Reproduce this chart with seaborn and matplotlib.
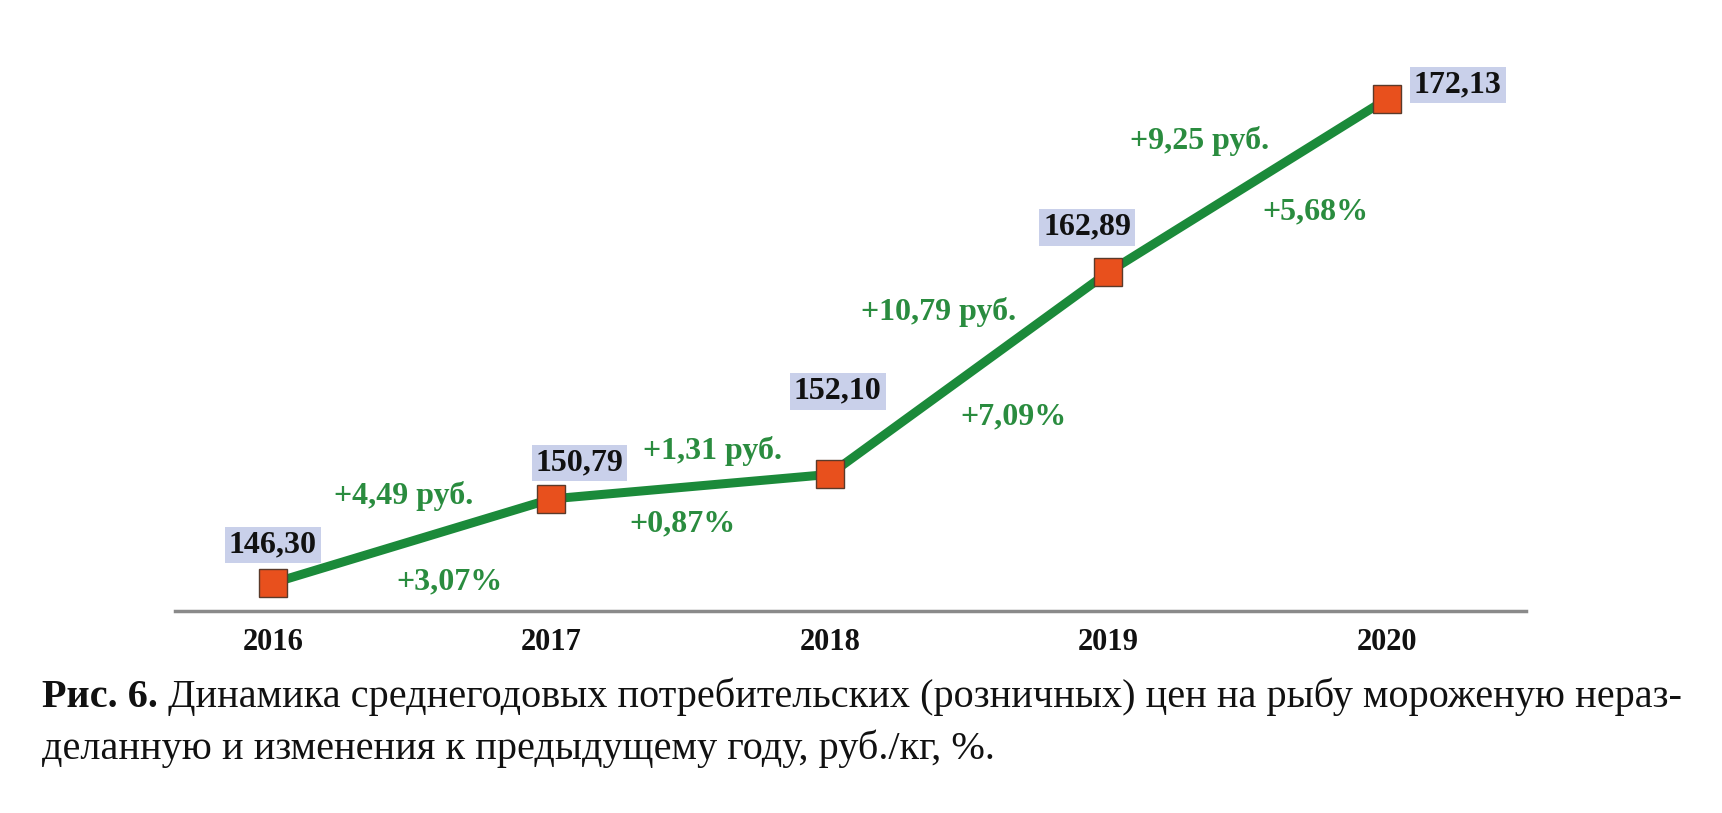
import matplotlib
matplotlib.use("Agg")
import matplotlib.pyplot as plt
import seaborn as sns
import pandas as pd

# data
years = ["2016", "2017", "2018", "2019", "2020"]
prices = [146.30, 150.79, 152.10, 162.89, 172.13]
price_labels = ["146,30", "150,79", "152,10", "162,89", "172,13"]
rub_change = ["+4,49 руб.", "+1,31 руб.", "+10,79 руб.", "+9,25 руб."]
pct_change = ["+3,07%", "+0,87%", "+7,09%", "+5,68%"]

caption_bold = "Рис. 6."
caption_rest = (" Динамика среднегодовых потребительских (розничных) цен на рыбу мороженую нераз-")
caption_line2 = "деланную и изменения к предыдущему году, руб./кг, %."

GREEN_LINE = "#1b8a3a"
GREEN_TEXT = "#2a8c3f"
MARKER = "#e8501d"
BOX = "#c9d0ea"

sns.set_theme(style="white")
plt.rcParams["font.family"] = ["Liberation Serif", "DejaVu Serif"]

df = pd.DataFrame({"pos": range(len(years)), "price": prices})

fig = plt.figure(figsize=(17.22, 8.13), dpi=100)
ax = fig.add_axes([0.1016, 0.2485, 0.886 - 0.1016, 0.963 - 0.2485])

sns.lineplot(data=df, x="pos", y="price", ax=ax, color=GREEN_LINE, linewidth=6.5,
             marker="s", markersize=20, markerfacecolor=MARKER,
             markeredgecolor="#5a3a2a", markeredgewidth=1.0, zorder=3)

ax.set_xlim(-0.352, 4.499)
ax.set_ylim(144.81, 175.81)
ax.set_xticks(range(len(years)))
ax.set_xticklabels(years, fontsize=22, fontweight="bold", color="#111111")
ax.tick_params(axis="x", length=0, pad=12)
ax.set_yticks([])
ax.set_xlabel("")
ax.set_ylabel("")
for side in ["top", "left", "right"]:
    ax.spines[side].set_visible(False)
ax.spines["bottom"].set_color("#8a8a8a")
ax.spines["bottom"].set_linewidth(2.5)

# value labels (pixel offsets from markers)
val_off = [(0, 38), (28, 36), (8, 83), (-21, 45), (71, 14)]
for i, (lab, off) in enumerate(zip(price_labels, val_off)):
    ax.annotate(lab, xy=(i, prices[i]), xytext=off, textcoords="offset pixels",
                ha="center", va="center", fontsize=23, fontweight="bold", color="#111111",
                bbox=dict(boxstyle="square,pad=0.12", fc=BOX, ec="none"), zorder=4)

# change labels around segment midpoints
rub_off = [(-9, 45), (22, 36), (-31, 61), (-48, 45)]
pct_off = [(37, -41), (-8, -37), (44, -44), (68, -26)]
for i in range(len(rub_change)):
    mx = i + 0.5
    my = (prices[i] + prices[i + 1]) / 2
    ax.annotate(rub_change[i], xy=(mx, my), xytext=rub_off[i], textcoords="offset pixels",
                ha="center", va="center", fontsize=23, fontweight="bold", color=GREEN_TEXT)
    ax.annotate(pct_change[i], xy=(mx, my), xytext=pct_off[i], textcoords="offset pixels",
                ha="center", va="center", fontsize=23, fontweight="bold", color=GREEN_TEXT)

# caption
t1 = fig.text(42 / 1722, 1 - 697 / 813, caption_bold, fontsize=29, fontweight="bold",
              va="center", ha="left", color="#111111")
fig.text(42 / 1722, 1 - 749 / 813, caption_line2, fontsize=29, va="center", ha="left",
         color="#111111")
ax.annotate(caption_rest, xy=(1, 0.5), xycoords=t1, va="center", ha="left",
            fontsize=29, color="#111111", annotation_clip=False)

fig.savefig("out.png", dpi=100, facecolor="white")
